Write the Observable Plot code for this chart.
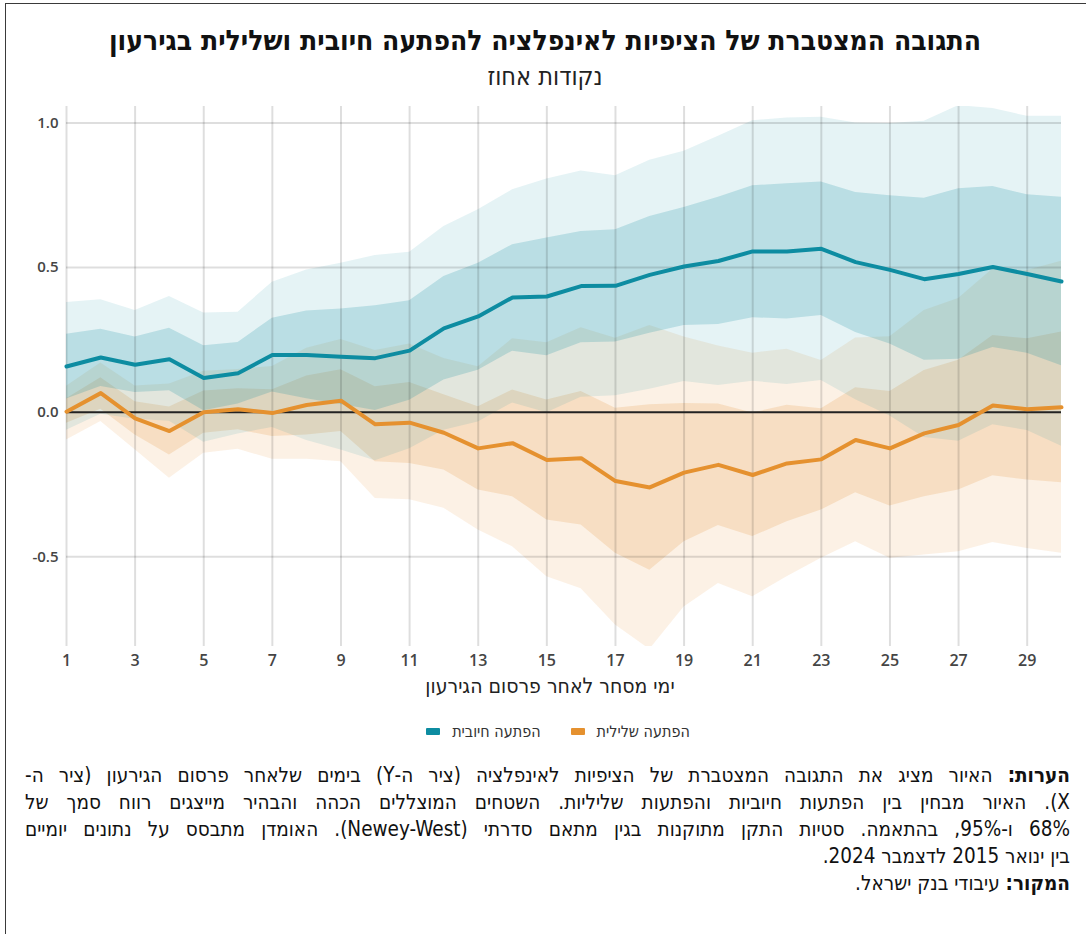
<!DOCTYPE html>
<html lang="he">
<head>
<meta charset="utf-8">
<script src="https://cdn.jsdelivr.net/npm/d3@7"></script>
<script src="https://cdn.jsdelivr.net/npm/@observablehq/plot@0.6"></script>
<style>
  html, body { margin: 0; padding: 0; background: #fff; }
  body { width: 1086px; height: 934px; position: relative; overflow: hidden;
         font-family: "Liberation Sans Narrow", "DejaVu Sans Condensed", "Liberation Sans", sans-serif; color: #222; }
  .frame { position: absolute; left: 5px; top: 3px; width: 1200px; height: 1000px;
           border-left: 1.5px solid #3a3a3a; border-top: 1.5px solid #3a3a3a; }
  .title { position: absolute; left: 0; width: 1090px; top: 24px; text-align: center; direction: rtl;
           font-size: 28px; font-weight: bold; color: #111; }
  .subtitle { position: absolute; left: 0; width: 1090px; top: 62px; text-align: center; direction: rtl;
              font-size: 25px; color: #222; }
  #chart { position: absolute; left: 0; top: 100px; }
  .xlabel { position: absolute; left: 0; width: 1100px; top: 674px; text-align: center; direction: rtl;
            font-size: 21px; color: #222; }
  .legend { position: absolute; left: 0; width: 1116px; top: 722px; display: flex; justify-content: center;
            align-items: center; direction: ltr; font-size: 16px; color: #333; }
  .legend .sw { display: inline-block; width: 14px; height: 7px; border-radius: 1px; margin-right: 12px; }
  .legend .item { display: flex; align-items: center; margin: 0 15px; }
  .notes { position: absolute; left: 25px; width: 1045px; top: 762px; direction: rtl; font-size: 20.5px;
           line-height: 27px; color: #111; }
  .notes .j { text-align: justify; text-align-last: justify; white-space: nowrap; }
  .notes b { font-weight: bold; }
</style>
</head>
<body>
<div class="frame"></div>
<div class="title">התגובה המצטברת של הציפיות לאינפלציה להפתעה חיובית ושלילית בגירעון</div>
<div class="subtitle">נקודות אחוז</div>
<div id="chart"></div>
<div class="xlabel">ימי מסחר לאחר פרסום הגירעון</div>
<div class="legend" id="legend"></div>
<div class="notes">
  <div class="j"><b>הערות:</b> האיור מציג את התגובה המצטברת של הציפיות לאינפלציה (ציר ה-Y) בימים שלאחר פרסום הגירעון (ציר ה-</div>
  <div class="j">X). האיור מבחין בין הפתעות חיוביות והפתעות שליליות. השטחים המוצללים הכהה והבהיר מייצגים רווח סמך של</div>
  <div class="j">68% ו-95%, בהתאמה. סטיות התקן מתוקנות בגין מתאם סדרתי (Newey-West). האומדן מתבסס על נתונים יומיים</div>
  <div>בין ינואר 2015 לדצמבר 2024.</div>
  <div><b>המקור:</b> עיבודי בנק ישראל.</div>
</div>
<script>
// ---- data ----
const days = [1,2,3,4,5,6,7,8,9,10,11,12,13,14,15,16,17,18,19,20,21,22,23,24,25,26,27,28,29,30];

const posMean = [0.158,0.189,0.164,0.183,0.118,0.135,0.198,0.198,0.192,0.187,0.213,0.290,0.331,0.397,0.400,0.436,0.437,0.475,0.504,0.523,0.556,0.556,0.565,0.519,0.492,0.460,0.478,0.502,0.478,0.452];
const posHi68 = [0.270,0.287,0.260,0.290,0.230,0.241,0.325,0.350,0.357,0.368,0.385,0.469,0.515,0.579,0.602,0.625,0.631,0.677,0.708,0.743,0.783,0.790,0.796,0.760,0.748,0.740,0.773,0.780,0.752,0.743];
const posLo68 = [0.046,0.089,0.068,0.074,0.005,0.028,0.070,0.047,0.027,0.006,0.041,0.111,0.145,0.211,0.195,0.240,0.243,0.273,0.300,0.303,0.327,0.322,0.334,0.276,0.236,0.180,0.183,0.224,0.204,0.161];
const posHi95 = [0.379,0.389,0.352,0.400,0.343,0.346,0.449,0.492,0.515,0.542,0.553,0.642,0.700,0.769,0.806,0.834,0.818,0.871,0.902,0.954,1.008,1.017,1.020,1.000,0.998,1.006,1.060,1.050,1.023,1.023];
const posLo95 = [-0.062,-0.007,-0.024,-0.031,-0.104,-0.075,-0.053,-0.098,-0.131,-0.168,-0.126,-0.062,-0.034,0.032,-0.002,0.052,0.057,0.079,0.106,0.092,0.107,0.096,0.110,0.043,-0.013,-0.087,-0.100,-0.043,-0.063,-0.118];

const negMean = [0.002,0.066,-0.021,-0.065,0.000,0.010,-0.003,0.025,0.040,-0.042,-0.036,-0.071,-0.125,-0.107,-0.165,-0.159,-0.238,-0.260,-0.209,-0.182,-0.217,-0.177,-0.163,-0.096,-0.125,-0.073,-0.044,0.023,0.010,0.017];
const negHi68 = [0.047,0.119,0.036,0.018,0.073,0.081,0.078,0.125,0.147,0.088,0.103,0.060,0.019,0.077,0.042,0.072,0.014,0.026,0.030,0.028,-0.003,0.024,0.012,0.085,0.072,0.144,0.180,0.265,0.254,0.277];
const negLo68 = [-0.038,0.010,-0.079,-0.148,-0.073,-0.061,-0.084,-0.079,-0.067,-0.171,-0.177,-0.200,-0.269,-0.292,-0.373,-0.390,-0.488,-0.546,-0.448,-0.392,-0.430,-0.379,-0.338,-0.278,-0.324,-0.292,-0.269,-0.220,-0.234,-0.244];
const negHi95 = [0.090,0.170,0.091,0.098,0.142,0.148,0.158,0.221,0.251,0.213,0.236,0.186,0.157,0.254,0.240,0.292,0.256,0.300,0.260,0.229,0.204,0.218,0.179,0.257,0.261,0.352,0.393,0.495,0.490,0.522];
const negLo95 = [-0.096,-0.032,-0.130,-0.228,-0.142,-0.128,-0.163,-0.163,-0.171,-0.298,-0.303,-0.332,-0.407,-0.465,-0.569,-0.610,-0.736,-0.820,-0.673,-0.592,-0.638,-0.569,-0.505,-0.448,-0.505,-0.494,-0.482,-0.450,-0.471,-0.488];

const xTicks = [1,3,5,7,9,11,13,15,17,19,21,23,25,27,29];
const yTicks = [-0.5,0,0.5,1.0];
const yGrid = [-0.5,0.5,1.0];
const seriesNames = ["הפתעה חיובית","הפתעה שלילית"];

const blue = "#0d8ca1";
const orange = "#e5912f";

const pos = days.map((d,i) => ({day:d, m:posMean[i], lo68:posLo68[i], hi68:posHi68[i], lo95:posLo95[i], hi95:posHi95[i]}));
const neg = days.map((d,i) => ({day:d, m:negMean[i], lo68:negLo68[i], hi68:negHi68[i], lo95:negLo95[i], hi95:negHi95[i]}));

const tickFont = {fontSize: 16, fontWeight: 600, fill: "#454545"};

const chart = Plot.plot({
  width: 1086,
  height: 580,
  marginTop: 6,
  marginBottom: 34,
  marginLeft: 66,
  marginRight: 25,
  style: {fontFamily: "'Open Sans', 'DejaVu Sans', sans-serif", background: "transparent", overflow: "visible"},
  x: {domain: [1, 30]},
  y: {domain: [-0.81, 1.057]},
  marks: [
    Plot.areaY(neg, {x:"day", y1:"lo95", y2:"hi95", fill: orange, fillOpacity: 0.125, clip: true}),
    Plot.areaY(neg, {x:"day", y1:"lo68", y2:"hi68", fill: orange, fillOpacity: 0.19, clip: true}),
    Plot.areaY(pos, {x:"day", y1:"lo95", y2:"hi95", fill: blue, fillOpacity: 0.105, clip: true}),
    Plot.areaY(pos, {x:"day", y1:"lo68", y2:"hi68", fill: blue, fillOpacity: 0.2, clip: true}),
    Plot.gridX(xTicks, {stroke: "#000", strokeOpacity: 0.13, strokeWidth: 2}),
    Plot.gridY(yGrid, {stroke: "#000", strokeOpacity: 0.13, strokeWidth: 2}),
    Plot.ruleY([0], {stroke: "#222", strokeWidth: 2}),
    Plot.line(neg, {x:"day", y:"m", stroke: orange, strokeWidth: 4}),
    Plot.line(pos, {x:"day", y:"m", stroke: blue, strokeWidth: 4}),
    Plot.axisX(xTicks, {tickSize: 0, tickPadding: 8, tickFormat: d => String(d), ...tickFont, label: null}),
    Plot.axisY(yTicks, {tickSize: 0, tickPadding: 8, tickFormat: d => d.toFixed(1), ...tickFont, fontSize: 15, label: null})
  ]
});
document.getElementById("chart").appendChild(chart);

// legend
const legend = document.getElementById("legend");
[[seriesNames[0], blue], [seriesNames[1], orange]].forEach(([name, col]) => {
  const item = document.createElement("div");
  item.className = "item";
  const sw = document.createElement("span");
  sw.className = "sw";
  sw.style.background = col;
  const t = document.createElement("span");
  t.textContent = name;
  t.dir = "rtl";
  item.appendChild(sw);
  item.appendChild(t);
  legend.appendChild(item);
});
</script>
</body>
</html>
